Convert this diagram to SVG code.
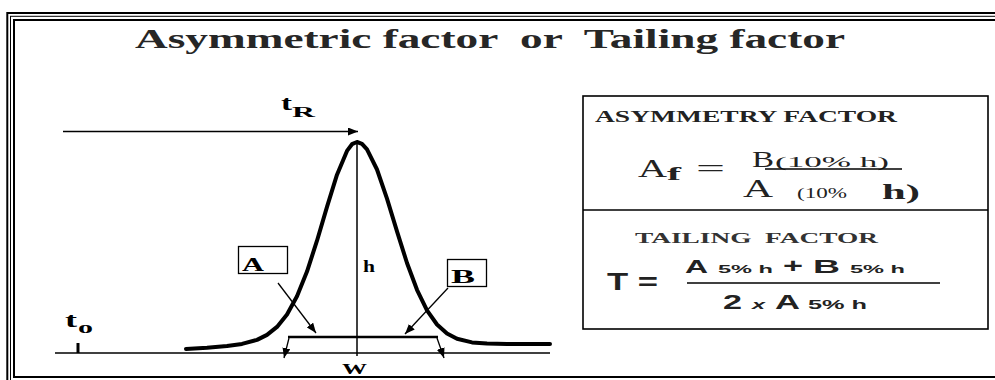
<svg xmlns="http://www.w3.org/2000/svg" width="995" height="380" viewBox="0 0 995 380">
<defs>
<marker id="ah" markerUnits="userSpaceOnUse" markerWidth="11" markerHeight="8" refX="10" refY="4" orient="auto">
<path d="M0,0 L10,4 L0,8 z" fill="#000"/>
</marker>
<style>
.serif{font-family:"Liberation Serif","Times New Roman",serif;}
.sans{font-family:"Liberation Sans",Arial,sans-serif;font-weight:bold;}
.b{font-weight:bold;}
.ln{stroke:#000;fill:none;}
</style>
</defs>
<rect width="995" height="380" fill="#fff"/>
<g id="frame" fill="none" stroke="#000">
<rect x="7.3" y="13" width="1100" height="400" stroke-width="2"/>
<rect x="10.5" y="16.3" width="1100" height="400" stroke-width="1"/>
<rect x="14" y="20" width="1100" height="357" stroke-width="2"/>
</g>
<g id="title">
<text class="serif b" x="135" y="48" font-size="27" fill="#262626" xml:space="preserve" textLength="710" lengthAdjust="spacingAndGlyphs">Asymmetric factor  or  Tailing factor</text>
</g>
<g id="chromatogram">
<line class="ln" x1="55" y1="353" x2="550" y2="353" stroke-width="1.5"/>
<line class="ln" x1="78" y1="343" x2="78" y2="353" stroke-width="3"/>
<polyline class="ln" stroke-width="4" stroke-linejoin="round" stroke-linecap="round" points="186,348.9 207,347.7 227,346.1 242,343.9 257,339.9 267,334.9 277,326.9 287,314.5 297,296.2 307,271.6 317,240.7 327,206.9 337,174.7 347,150.9 352,144.2 357,142 362,143.8 367,149.3 377,169.5 387,198.6 397,231.4 407,263 417,289.8 427,310.3 437,324.5 447,333.5 457,338.8 472,342.4 487,343.6 507,344 550,344"/>
<line class="ln" x1="357" y1="142" x2="357" y2="356" stroke-width="1.5"/>
<line class="ln" x1="288" y1="337" x2="438" y2="337" stroke-width="2.5"/>
</g>
<g id="connectors">
<line class="ln" x1="63" y1="131.5" x2="358" y2="131.5" stroke-width="1.5" marker-end="url(#ah)"/>
<line class="ln" x1="278" y1="283" x2="316" y2="333" stroke-width="1.3" marker-end="url(#ah)"/>
<line class="ln" x1="448" y1="288" x2="405" y2="334" stroke-width="1.3" marker-end="url(#ah)"/>
<line class="ln" x1="289" y1="338" x2="284" y2="358" stroke-width="1.3" marker-end="url(#ah)"/>
<line class="ln" x1="437" y1="338" x2="444" y2="358" stroke-width="1.3" marker-end="url(#ah)"/>
</g>
<g id="labels" class="serif b">
<text x="281" y="110" font-size="22" textLength="11" lengthAdjust="spacingAndGlyphs">t</text>
<text x="292" y="117" font-size="14" textLength="23" lengthAdjust="spacingAndGlyphs">R</text>
<text x="65" y="327" font-size="22" textLength="12" lengthAdjust="spacingAndGlyphs">t</text>
<text x="78" y="333" font-size="13" textLength="15" lengthAdjust="spacingAndGlyphs">0</text>
<text x="363" y="272" font-size="16" textLength="12" lengthAdjust="spacingAndGlyphs">h</text>
<text x="342" y="374" font-size="15" textLength="25" lengthAdjust="spacingAndGlyphs">W</text>
</g>
<g id="node-A">
<rect x="238.5" y="246.5" width="49" height="27" fill="#fff" stroke="#000" stroke-width="1.3"/>
<text class="serif b" x="242" y="271" font-size="19" textLength="22" lengthAdjust="spacingAndGlyphs">A</text>
</g>
<g id="node-B">
<rect x="447.5" y="259.5" width="39" height="27" fill="#fff" stroke="#000" stroke-width="1.3"/>
<text class="serif b" x="451" y="283" font-size="19" textLength="24" lengthAdjust="spacingAndGlyphs">B</text>
</g>
<g id="formula-box">
<rect x="583" y="96" width="405" height="233" fill="none" stroke="#000" stroke-width="1.6"/>
<line class="ln" x1="583" y1="210" x2="988" y2="210" stroke-width="1.6"/>
<text class="serif b" x="595" y="122" font-size="16" fill="#222" textLength="302" lengthAdjust="spacingAndGlyphs">ASYMMETRY FACTOR</text>
<text class="serif" x="638" y="177" font-size="26" fill="#222" textLength="29" lengthAdjust="spacingAndGlyphs">A</text>
<text class="serif b" x="667" y="180" font-size="18" fill="#222" textLength="14" lengthAdjust="spacingAndGlyphs">f</text>
<text class="serif" x="696" y="177" font-size="26" fill="#222" textLength="29" lengthAdjust="spacingAndGlyphs">=</text>
<text class="serif" x="752" y="167" font-size="24" fill="#222" textLength="22" lengthAdjust="spacingAndGlyphs">B</text>
<text class="serif" x="775" y="167" font-size="14" fill="#222" textLength="114" lengthAdjust="spacingAndGlyphs">(10% h)</text>
<line class="ln" x1="765" y1="169" x2="902" y2="169" stroke-width="1.3"/>
<text class="serif" x="743" y="197" font-size="26" fill="#222" textLength="30" lengthAdjust="spacingAndGlyphs">A</text>
<text class="serif" x="797" y="198" font-size="14" fill="#222" textLength="50" lengthAdjust="spacingAndGlyphs">(10%</text>
<text class="serif b" x="882" y="199" font-size="20" fill="#222" textLength="38" lengthAdjust="spacingAndGlyphs">h)</text>
<text class="serif b" x="635" y="243" font-size="15" fill="#333" xml:space="preserve" textLength="243" lengthAdjust="spacingAndGlyphs">TAILING  FACTOR</text>
<text class="sans" x="607" y="290" font-size="24" fill="#222" textLength="51" lengthAdjust="spacingAndGlyphs">T =</text>
<text class="sans" x="685" y="273" font-size="18" fill="#222" textLength="23" lengthAdjust="spacingAndGlyphs">A</text>
<text class="sans" x="718" y="273" font-size="11" fill="#222" textLength="55" lengthAdjust="spacingAndGlyphs">5% h</text>
<text class="sans" x="783" y="273" font-size="20" fill="#222" textLength="20" lengthAdjust="spacingAndGlyphs">+</text>
<text class="sans" x="813" y="273" font-size="18" fill="#222" textLength="27" lengthAdjust="spacingAndGlyphs">B</text>
<text class="sans" x="850" y="273" font-size="11" fill="#222" textLength="55" lengthAdjust="spacingAndGlyphs">5% h</text>
<line class="ln" x1="687" y1="283" x2="940" y2="283" stroke-width="1.5"/>
<text class="sans" x="723" y="309" font-size="21" fill="#222" textLength="19" lengthAdjust="spacingAndGlyphs">2</text>
<text class="sans" x="752" y="309" font-size="13" fill="#222" font-style="italic" textLength="13" lengthAdjust="spacingAndGlyphs">x</text>
<text class="sans" x="775" y="309" font-size="21" fill="#222" textLength="25" lengthAdjust="spacingAndGlyphs">A</text>
<text class="sans" x="808" y="309" font-size="12" fill="#222" textLength="59" lengthAdjust="spacingAndGlyphs">5% h</text>
</g>
</svg>
